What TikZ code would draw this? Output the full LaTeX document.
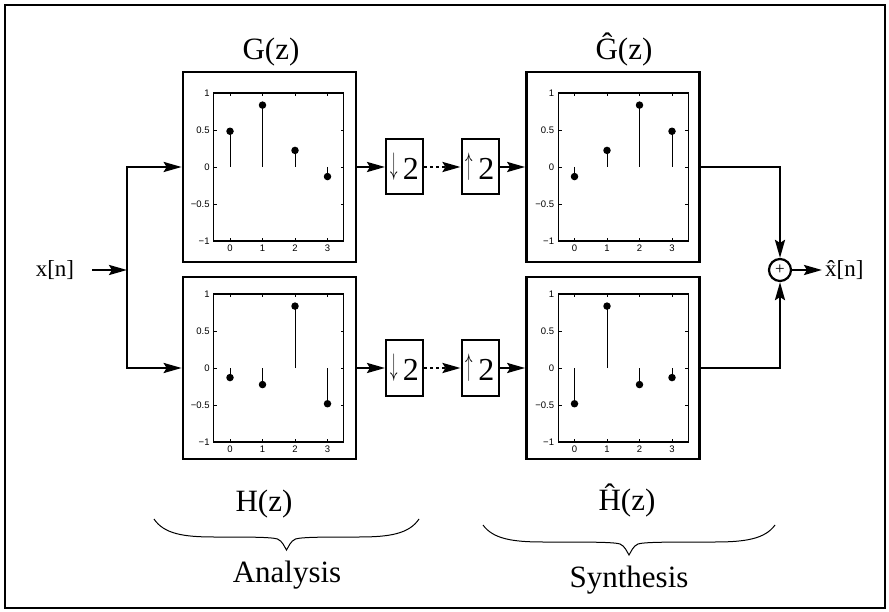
\documentclass[tikz,border=0pt]{standalone}
\usepackage{fontspec}
\setmainfont{Liberation Serif}
\setsansfont{Liberation Sans}
\usepackage{graphicx}
\usetikzlibrary{arrows.meta,positioning,calc}

% stem plot of 4 taps: #1 = origin (n=0, h=0), #2 = tap values
\newcommand{\stemplot}[2]{%
  \begin{scope}[shift={#1}, x=32.5pt, y=74pt]
    \draw[Ax] (-0.5,-1) rectangle (3.5,1);
    \foreach \t in {0,...,3} {
      \draw[Tk] (\t,-1) -- ++(0,0.04);
      \draw[Tk] (\t,1) -- ++(0,-0.04);
      \node[TL, below=3pt] at (\t,-1) {\t};
    }
    \foreach \v/\l in {1/1, 0.5/0.5, 0/0, -0.5/−0.5, -1/−1} {
      \draw[Tk] (-0.5,\v) -- ++(0.1,0);
      \draw[Tk] (3.5,\v) -- ++(-0.1,0);
      \node[TL, left=3pt] at (-0.5,\v) {\l};
    }
    \foreach \v [count=\n from 0] in {#2}
      \draw[St] (\n,0) -- (\n,\v) node[Dot] {};
  \end{scope}}

% curly brace under a block: #1 left x, #2 right x, #3 end y, #4 flat y, #5 tip y
\newcommand{\underbr}[5]{%
  \draw[Br] (#1,#3) .. controls ({#1+10},{#4-3}) and ({#1+30},{#4}) .. ({#1+60},{#4})
    .. controls ({(#1+#2)/2-40},{#4}) and ({(#1+#2)/2-15},{#4}) .. ({(#1+#2)/2-9},{#4+2})
    .. controls ({(#1+#2)/2-4},{#4+4}) and ({(#1+#2)/2-2},{#5-3}) .. ({(#1+#2)/2},{#5})
    .. controls ({(#1+#2)/2+2},{#5-3}) and ({(#1+#2)/2+4},{#4+4}) .. ({(#1+#2)/2+9},{#4+2})
    .. controls ({(#1+#2)/2+15},{#4}) and ({(#1+#2)/2+40},{#4}) .. ({#2-60},{#4})
    .. controls ({#2-30},{#4}) and ({#2-10},{#4-3}) .. (#2,#3);}

\newcommand{\dnarr}{\scalebox{0.6}[1.25]{\raisebox{0.12em}{$\downarrow$}}\,}
\newcommand{\uparr}{\scalebox{0.6}[1.25]{\raisebox{0.12em}{$\uparrow$}}\,}

\begin{document}
\begin{tikzpicture}[x=1pt, y=-1pt,
    % ---- styles ----
    F/.style={draw, line width=2.6pt, minimum width=173pt, inner sep=0pt},
    S/.style={draw, line width=2pt, minimum width=37pt, minimum height=55pt,
              inner sep=0pt, font=\fontsize{32}{32}\selectfont},
    T/.style={font=\fontsize{31}{31}\selectfont, anchor=base, inner sep=0pt},
    IO/.style={font=\fontsize{23}{23}\selectfont, inner sep=3pt},
    A/.style={-{Stealth[length=18pt, width=10pt, inset=3pt]}, line width=2.6pt},
    Ad/.style={A, dash pattern=on 3pt off 3pt},
    Ax/.style={line width=1.2pt},
    Tk/.style={line width=0.6pt},
    TL/.style={font=\sffamily\fontsize{9.5}{10}\selectfont, inner sep=1pt},
    St/.style={line width=0.9pt},
    Dot/.style={circle, fill, inner sep=0pt, minimum size=7.5pt},
    Br/.style={line width=1pt},
    Sum/.style={circle, draw, line width=2.2pt, minimum size=22pt, inner sep=0pt,
                font=\fontsize{17}{17}\selectfont},
]
\useasboundingbox (0,0) rectangle (889,612);
\draw[line width=2.4pt] (5,5) rectangle (885,608);

% ===== Analysis bank =====
\node[F, minimum height=190pt] (G) at (269.5,167) {};
\node[F, minimum height=182pt] (H) at (269.5,368) {};
\stemplot{($(G)+(-39.5,0)$)}{0.483, 0.8365, 0.2241, -0.1294}
\stemplot{($(H)+(-39.5,0)$)}{-0.1294, -0.2241, 0.8365, -0.483}

\node[T] (Glbl) at (271,60)  {G(z)};
\node[T] (Hlbl) at (264,511) {H(z)};

% ===== Rate changers =====
\node[S] (d1) at (404.5,167) {\dnarr2};
\node[S] (u1) at (480,167)   {\uparr2};
\node[S] (d2) at (404.5,368) {\dnarr2};
\node[S] (u2) at (480,368)   {\uparr2};

% ===== Synthesis bank =====
\node[F, minimum height=190pt] (Gh) at (613,167) {};
\node[F, minimum height=182pt] (Hh) at (613,368) {};
\stemplot{($(Gh)+(-38.5,0)$)}{-0.1294, 0.2241, 0.8365, 0.483}
\stemplot{($(Hh)+(-38.5,0)$)}{-0.483, 0.8365, -0.2241, -0.1294}

\node[T] (Ghlbl) at (624,60)  {\^{G}(z)};
\node[T] (Hhlbl) at (627,510) {\^{H}(z)};

% ===== Input and split =====
\node[IO] (x) at (55,270) {x[n]};
\coordinate (split) at (127,270);
\draw[A] (x.east) ++(15,0) -- (split);
\draw[A] (split) |- (G.west);
\draw[A] (split) |- (H.west);

% Filter -> down -> up -> filter
\foreach \f/\d/\u/\s in {G/d1/u1/Gh, H/d2/u2/Hh} {
    \draw[A] (\f.east) -- (\d.west);
    \draw[Ad] (\d.east) -- (\u.west);
    \draw[A] (\u.east) -- (\s.west);
}

% ===== Sum and output =====
\node[Sum] (sum) at (780,270) {+};
\node[IO, anchor=west] (y) at (822,270) {\^{x}[n]};
\draw[A] (Gh.east) -| (sum.north);
\draw[A] (Hh.east) -| (sum.south);
\draw[A] (sum.east) -- (y.west);

% ===== Braces =====
\underbr{154}{419}{519}{537}{550}
\underbr{483}{775}{525}{542}{555}
\node[T] (ana) at (287,582) {Analysis};
\node[T] (syn) at (629,587) {Synthesis};

\end{tikzpicture}
\end{document}
